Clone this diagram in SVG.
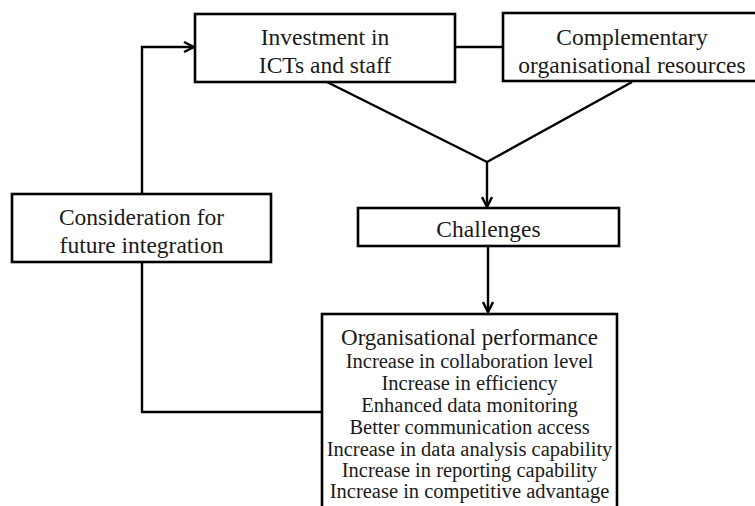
<svg xmlns="http://www.w3.org/2000/svg" width="755" height="506" viewBox="0 0 755 506">
  <defs>
    <!-- open chevron arrowhead -->
    <marker id="chev" viewBox="0 0 12 12" refX="11" refY="6" markerWidth="12" markerHeight="12" markerUnits="userSpaceOnUse" orient="auto">
      <path d="M1,1 L11,6 L1,11" fill="none" stroke="#000" stroke-width="2.4"/>
    </marker>
    <style>
      .box { fill: #fff; stroke: #000; stroke-width: 2.6; }
      .line { fill: none; stroke: #000; stroke-width: 2.4; }
      .t { font-family: "Liberation Serif", "Times New Roman", serif; fill: #1a1a1a; text-anchor: middle; }
      .big { font-size: 23.5px; }
      .title { font-size: 23px; }
      .item { font-size: 20.5px; }
    </style>
  </defs>

  <rect width="755" height="506" fill="#fff"/>

  <!-- connectors -->
  <g id="connectors">
    <line class="line" x1="455" y1="47" x2="503" y2="47"/>
    <polyline class="line" points="327,82 487,162 632,82"/>
    <line class="line" x1="487" y1="162" x2="487" y2="207" marker-end="url(#chev)"/>
    <line class="line" x1="488" y1="246" x2="488" y2="312" marker-end="url(#chev)"/>
    <polyline class="line" points="322,412 142,412 142,262"/>
    <polyline class="line" points="142,194 142,47 194,47" marker-end="url(#chev)"/>
  </g>

  <g id="investment">
    <rect class="box" x="195" y="14" width="260" height="68"/>
    <text class="t big" x="325" y="45">Investment in</text>
    <text class="t big" x="325" y="73">ICTs and staff</text>
  </g>

  <g id="complementary">
    <rect class="box" x="503" y="13" width="258" height="68"/>
    <text class="t big" x="632" y="45">Complementary</text>
    <text class="t big" x="632" y="73">organisational resources</text>
  </g>

  <g id="consideration">
    <rect class="box" x="12" y="194" width="259" height="68"/>
    <text class="t big" x="141.5" y="225">Consideration for</text>
    <text class="t big" x="141.5" y="253">future integration</text>
  </g>

  <g id="challenges">
    <rect class="box" x="358" y="208" width="261" height="38"/>
    <text class="t big" x="488.5" y="237">Challenges</text>
  </g>

  <g id="performance">
    <rect class="box" x="322" y="314" width="295" height="220"/>
    <text class="t title" x="469.5" y="345">Organisational performance</text>
    <text class="t item" x="469.5" y="368">Increase in collaboration level</text>
    <text class="t item" x="469.5" y="390">Increase in efficiency</text>
    <text class="t item" x="469.5" y="412">Enhanced data monitoring</text>
    <text class="t item" x="469.5" y="434">Better communication access</text>
    <text class="t item" x="469.5" y="456">Increase in data analysis capability</text>
    <text class="t item" x="469.5" y="477">Increase in reporting capability</text>
    <text class="t item" x="469.5" y="498">Increase in competitive advantage</text>
  </g>
</svg>
